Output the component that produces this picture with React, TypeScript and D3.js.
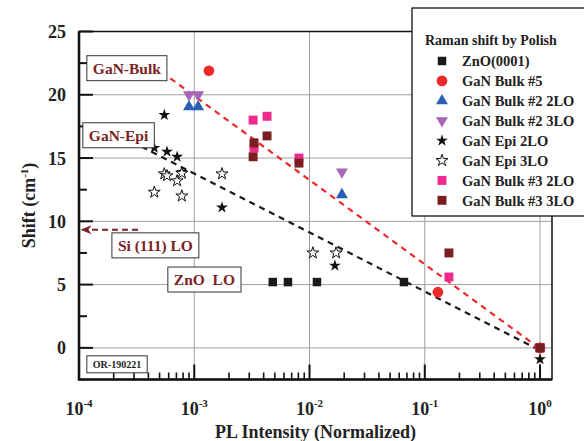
import * as d3 from "d3";
import React, { useEffect, useRef } from "react";

// axis ticks
const intensityDecades = [1e-4, 1e-3, 1e-2, 1e-1, 1];
const decadeExponents = ["-4", "-3", "-2", "-1", "0"];
const shiftTicks = [0, 5, 10, 15, 20, 25];
const shiftMinorTicks = [2.5, 7.5, 12.5, 17.5, 22.5];

// series (PL intensity, Raman shift)
const znoX = [4.8e-3, 6.5e-3, 0.0116, 0.066, 1.0];
const znoY = [5.2, 5.2, 5.2, 5.2, 0];
const bulk5X = [1.34e-3, 0.13, 1.0];
const bulk5Y = [21.9, 4.4, 0];
const bulk2LO2X = [9.0e-4, 1.08e-3, 0.0191];
const bulk2LO2Y = [19.05, 19.05, 12.1];
const bulk2LO3X = [9.0e-4, 1.08e-3, 0.0191];
const bulk2LO3Y = [20.0, 20.0, 13.9];
const epiLO2X = [5.5e-4, 4.5e-4, 5.8e-4, 7.1e-4, 7.8e-4, 1.74e-3, 0.0166, 1.0];
const epiLO2Y = [18.4, 15.8, 15.5, 15.1, 13.9, 11.1, 6.5, -0.9];
const epiLO3X = [5.5e-4, 5.8e-4, 7.1e-4, 7.8e-4, 4.5e-4, 7.8e-4, 1.74e-3, 0.0107, 0.017];
const epiLO3Y = [13.75, 13.6, 13.2, 13.8, 12.3, 12.0, 13.75, 7.5, 7.5];
const bulk3LO2X = [3.24e-3, 4.28e-3, 3.3e-3, 8.1e-3, 0.162, 1.0];
const bulk3LO2Y = [18.0, 18.3, 15.8, 15.0, 5.6, 0];
const bulk3LO3X = [3.3e-3, 3.24e-3, 4.28e-3, 8.1e-3, 0.162, 1.0];
const bulk3LO3Y = [16.2, 15.1, 16.75, 14.6, 7.5, 0];

// dashed trend lines
const bulkTrendX = [6.2e-4, 1.05];
const bulkTrendY = [21.3, -0.2];
const epiTrendX = [3.5e-4, 1.0];
const epiTrendY = [15.9, -0.2];

// Si(111) LO arrow
const siArrowX = [3.25e-4, 1.03e-4];
const siArrowY = 9.33;

// labels in the plot
const noteTexts = ["GaN-Bulk", "GaN-Epi", "Si (111) LO", "ZnO  LO"];
const noteX = [1.17e-4, 1.08e-4, 1.93e-4, 5.9e-4];
const noteY = [22.1, 16.8, 8.1, 5.4];
const stampText = "OR-190221";
const stampX = 1.17e-4;
const stampY = -1.3;

const legendTitle = "Raman shift by Polish";
const seriesNames = [
    "ZnO(0001)",
    "GaN Bulk #5",
    "GaN Bulk #2 2LO",
    "GaN Bulk #2 3LO",
    "GaN Epi 2LO",
    "GaN Epi 3LO",
    "GaN Bulk #3 2LO",
    "GaN Bulk #3 3LO",
];

const FONT = "'Liberation Serif', 'Times New Roman', serif";
const MAROON = "#7b2226";

const App = () => {
    const svgRef = useRef<SVGSVGElement>(null);

    useEffect(() => {
        const svg = d3.select(svgRef.current);
        svg.selectAll("*").remove();

        const x = d3.scaleLog().domain([1e-4, 1.27]).range([79, 552]);
        const y = d3.scaleLinear().domain([-2.5, 25]).range([379.5, 31.5]);
        const [x0, x1] = x.range();
        const [y0, y1] = y.range();

        // symbol styles for each series
        const styles = [
            { type: d3.symbolSquare, size: 72, fill: "#1a1a1a", stroke: "none", rot: 0 },
            { type: d3.symbolCircle, size: 90, fill: "#ee2a2a", stroke: "none", rot: 0 },
            { type: d3.symbolTriangle, size: 62, fill: "#2b5fb3", stroke: "none", rot: 0 },
            { type: d3.symbolTriangle, size: 62, fill: "#a866b8", stroke: "none", rot: 180 },
            { type: d3.symbolStar, size: 44, fill: "#111", stroke: "none", rot: 0 },
            { type: d3.symbolStar, size: 44, fill: "#fff", stroke: "#111", rot: 0 },
            { type: d3.symbolSquare, size: 80, fill: "#ee2a8e", stroke: "none", rot: 0 },
            { type: d3.symbolSquare, size: 80, fill: "#7a1e22", stroke: "none", rot: 0 },
        ];
        const seriesX = [znoX, bulk5X, bulk2LO2X, bulk2LO3X, epiLO2X, epiLO3X, bulk3LO2X, bulk3LO3X];
        const seriesY = [znoY, bulk5Y, bulk2LO2Y, bulk2LO3Y, epiLO2Y, epiLO3Y, bulk3LO2Y, bulk3LO3Y];

        // grid
        const grid = svg.append("g").attr("stroke", "#a0a0a0").attr("stroke-width", 1);
        grid.selectAll("line.v")
            .data(intensityDecades.slice(1))
            .enter()
            .append("line")
            .attr("x1", d => x(d))
            .attr("x2", d => x(d))
            .attr("y1", y0)
            .attr("y2", y1);
        grid.selectAll("line.h")
            .data(shiftTicks.slice(0, -1))
            .enter()
            .append("line")
            .attr("x1", x0)
            .attr("x2", x1)
            .attr("y1", d => y(d))
            .attr("y2", d => y(d));

        // ticks (inward)
        const ticks = svg.append("g").attr("stroke", "#111");
        ticks.selectAll("line.ymaj")
            .data(shiftTicks)
            .enter()
            .append("line")
            .attr("x1", x0)
            .attr("x2", x0 + 14)
            .attr("y1", d => y(d))
            .attr("y2", d => y(d))
            .attr("stroke-width", 2);
        ticks.selectAll("line.ymin")
            .data(shiftMinorTicks)
            .enter()
            .append("line")
            .attr("x1", x0)
            .attr("x2", x0 + 8)
            .attr("y1", d => y(d))
            .attr("y2", d => y(d))
            .attr("stroke-width", 2);
        const minorX: number[] = [];
        intensityDecades.slice(0, -1).forEach(d => {
            for (let k = 2; k <= 9; k++) minorX.push(d * k);
        });
        ticks.selectAll("line.xmaj")
            .data(intensityDecades)
            .enter()
            .append("line")
            .attr("x1", d => x(d))
            .attr("x2", d => x(d))
            .attr("y1", y0)
            .attr("y2", y0 - 15)
            .attr("stroke-width", 2);
        ticks.selectAll("line.xmin")
            .data(minorX)
            .enter()
            .append("line")
            .attr("x1", d => x(d))
            .attr("x2", d => x(d))
            .attr("y1", y0)
            .attr("y2", y0 - 7)
            .attr("stroke-width", 1.6);

        // frame
        svg.append("rect")
            .attr("x", x0)
            .attr("y", y1)
            .attr("width", x1 - x0)
            .attr("height", y0 - y1)
            .attr("fill", "none")
            .attr("stroke", "#111")
            .attr("stroke-width", 1.5);
        svg.append("path")
            .attr("d", `M${x0},${y1}V${y0}H${x1}`)
            .attr("fill", "none")
            .attr("stroke", "#111")
            .attr("stroke-width", 2.6);

        // trend lines
        const drawTrend = (xs: number[], ys: number[], color: string) => {
            svg.append("path")
                .attr("d", d3.line<number>().x(d => x(d)).y((d, i) => y(ys[i]))(xs))
                .attr("fill", "none")
                .attr("stroke", color)
                .attr("stroke-width", 2.2)
                .attr("stroke-dasharray", "6,5");
        };
        drawTrend(bulkTrendX, bulkTrendY, "#f0282a");
        drawTrend(epiTrendX, epiTrendY, "#1a1a1a");

        // Si arrow
        const ay = y(siArrowY);
        svg.append("line")
            .attr("x1", x(siArrowX[0]))
            .attr("x2", x(siArrowX[1]) + 8)
            .attr("y1", ay)
            .attr("y2", ay)
            .attr("stroke", MAROON)
            .attr("stroke-width", 2)
            .attr("stroke-dasharray", "6,4");
        const tip = x(siArrowX[1]);
        svg.append("path")
            .attr("d", `M${tip},${ay}L${tip + 11},${ay - 4.5}L${tip + 8},${ay}L${tip + 11},${ay + 4.5}Z`)
            .attr("fill", MAROON);

        // data points
        const marks = svg.append("g");
        styles.forEach((s, i) => {
            const sym = d3.symbol().type(s.type).size(s.size);
            marks.selectAll(`path.s${i}`)
                .data(seriesX[i])
                .enter()
                .append("path")
                .attr("class", `s${i}`)
                .attr("d", sym)
                .attr("transform", (d, j) => `translate(${x(d)},${y(seriesY[i][j])}) rotate(${s.rot})`)
                .attr("fill", s.fill)
                .attr("stroke", s.stroke)
                .attr("stroke-width", 1);
        });

        // note boxes
        const drawBox = (text: string, px: number, py: number, size: number, color: string, h: number) => {
            const g = svg.append("g");
            const rect = g.append("rect");
            const t = g.append("text")
                .attr("x", px + 6)
                .attr("y", py)
                .attr("dy", "0.35em")
                .attr("font-family", FONT)
                .attr("font-weight", "bold")
                .attr("font-size", size)
                .attr("fill", color)
                .style("white-space", "pre")
                .text(text);
            const w = (t.node() as SVGTextElement).getComputedTextLength();
            rect.attr("x", px)
                .attr("y", py - h / 2)
                .attr("width", w + 12)
                .attr("height", h)
                .attr("fill", "#fff")
                .attr("stroke", "#333")
                .attr("stroke-width", 1);
        };
        noteTexts.forEach((t, i) => drawBox(t, x(noteX[i]), y(noteY[i]), 15.5, MAROON, 25));
        drawBox(stampText, x(stampX), y(stampY), 10, "#222", 17);

        // tick labels
        const labels = svg.append("g")
            .attr("font-family", FONT)
            .attr("font-weight", "bold")
            .attr("fill", "#222");
        labels.selectAll("text.y")
            .data(shiftTicks)
            .enter()
            .append("text")
            .attr("x", 66)
            .attr("y", d => y(d))
            .attr("dy", "0.36em")
            .attr("text-anchor", "end")
            .attr("font-size", 18)
            .text(d => d);
        intensityDecades.forEach((d, i) => {
            const t = labels.append("text")
                .attr("x", x(d))
                .attr("y", 415)
                .attr("text-anchor", "middle")
                .attr("font-size", 18);
            t.append("tspan").text("10");
            t.append("tspan").attr("dy", -8).attr("font-size", 11).text(decadeExponents[i]);
        });

        // axis titles
        svg.append("text")
            .attr("x", (x0 + x1) / 2)
            .attr("y", 438)
            .attr("text-anchor", "middle")
            .attr("font-family", FONT)
            .attr("font-weight", "bold")
            .attr("font-size", 18)
            .attr("fill", "#222")
            .text("PL Intensity (Normalized)");
        const yt = svg.append("text")
            .attr("transform", `translate(35,${(y0 + y1) / 2}) rotate(-90)`)
            .attr("text-anchor", "middle")
            .attr("font-family", FONT)
            .attr("font-weight", "bold")
            .attr("font-size", 18)
            .attr("fill", "#222");
        yt.append("tspan").text("Shift (cm");
        yt.append("tspan").attr("dy", -7).attr("font-size", 11).text("-1");
        yt.append("tspan").attr("dy", 7).text(")");

        // legend
        const lg = svg.append("g");
        lg.append("rect")
            .attr("x", 412)
            .attr("y", 8)
            .attr("width", 200)
            .attr("height", 208)
            .attr("fill", "#fff")
            .attr("stroke", "#111")
            .attr("stroke-width", 1.3);
        lg.append("text")
            .attr("x", 425)
            .attr("y", 45)
            .attr("font-family", FONT)
            .attr("font-weight", "bold")
            .attr("font-size", 14)
            .attr("fill", "#222")
            .text(legendTitle);
        seriesNames.forEach((name, i) => {
            const cy = 61 + i * 19.9;
            const s = styles[i];
            lg.append("path")
                .attr("d", d3.symbol().type(s.type).size(s.size)())
                .attr("transform", `translate(442,${cy}) rotate(${s.rot})`)
                .attr("fill", s.fill)
                .attr("stroke", s.stroke);
            lg.append("text")
                .attr("x", 462)
                .attr("y", cy)
                .attr("dy", "0.36em")
                .attr("font-family", FONT)
                .attr("font-weight", "bold")
                .attr("font-size", 14.5)
                .attr("fill", "#222")
                .text(name);
        });
    }, []);

    return (
        <svg
            ref={svgRef}
            width={584}
            height={441}
            style={{ position: "absolute", left: 0, top: 0, background: "#fff" }}
        />
    );
};

export default App;
